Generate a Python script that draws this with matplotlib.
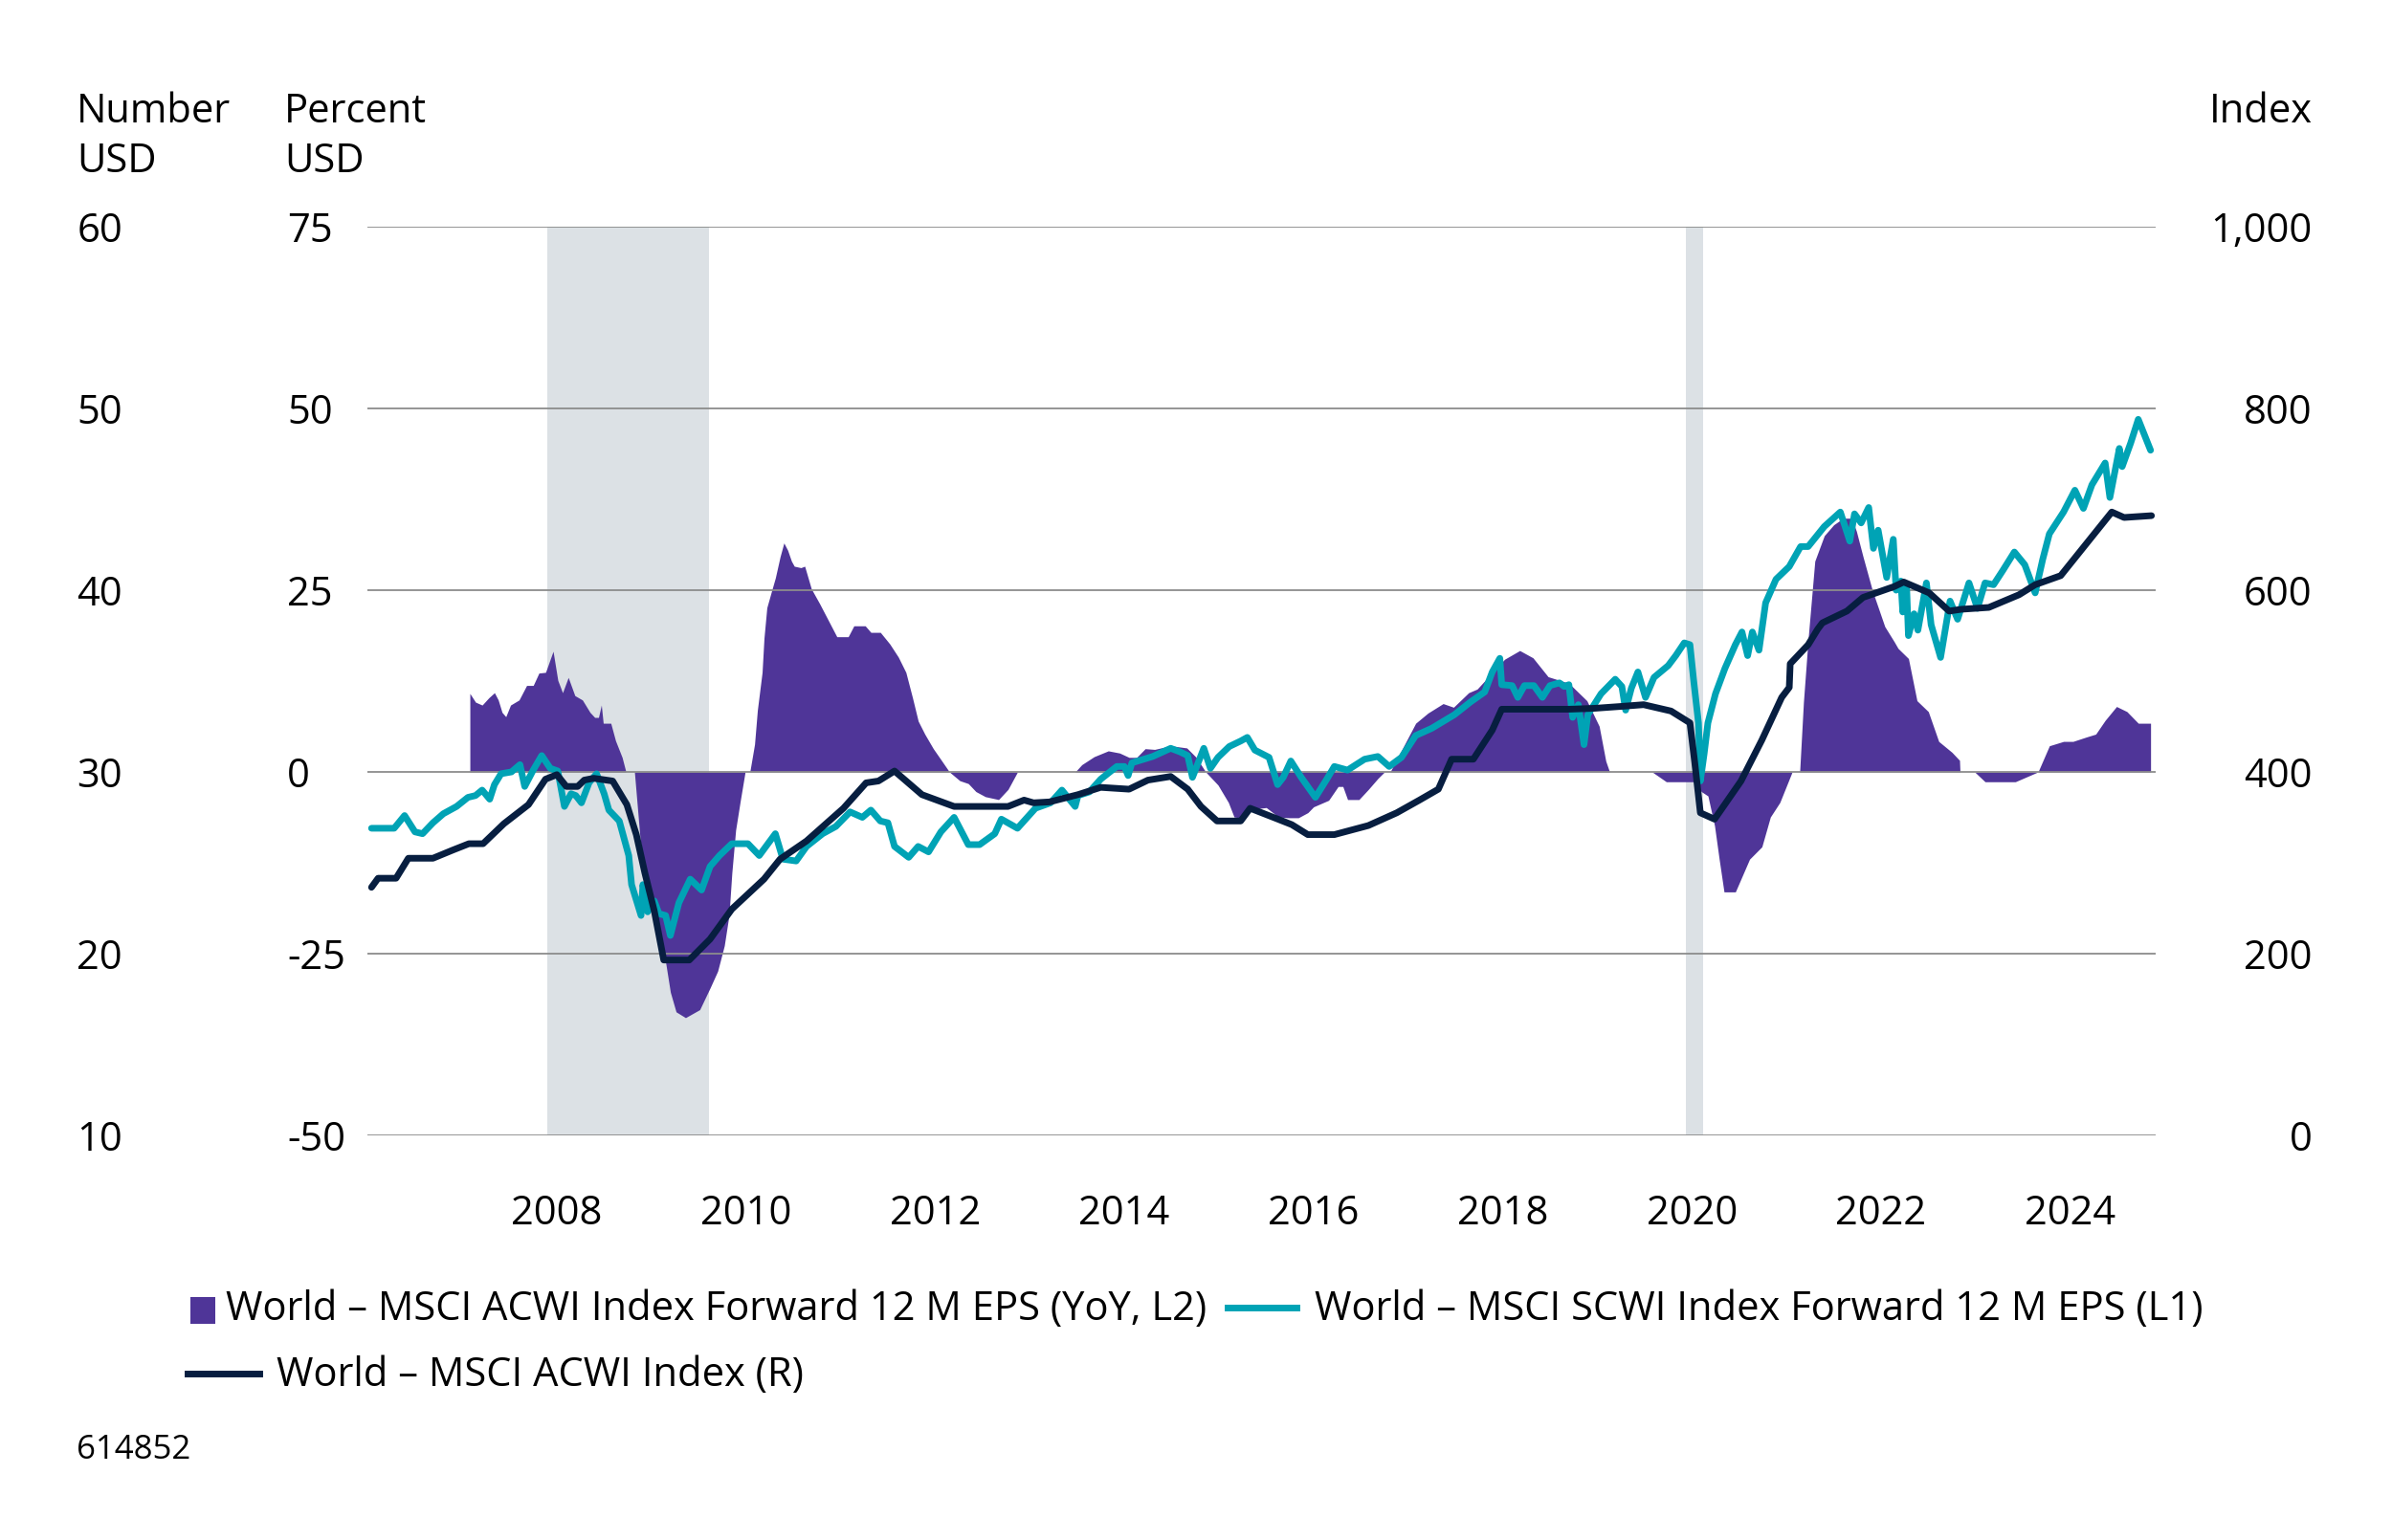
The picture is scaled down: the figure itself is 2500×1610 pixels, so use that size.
import matplotlib
matplotlib.use('Agg')
import matplotlib.pyplot as plt
from matplotlib.lines import Line2D
from matplotlib.patches import Rectangle

plt.rcParams['font.family'] = ['Open Sans', 'DejaVu Sans']
plt.rcParams['axes.unicode_minus'] = False

# Forward 12M EPS, USD (left outer axis, L1)
eps_year = [2006.04, 2006.28, 2006.39, 2006.50, 2006.58, 2006.69, 2006.80, 2006.94, 2007.06, 2007.14,
            2007.21, 2007.29, 2007.34, 2007.41, 2007.52, 2007.61, 2007.66, 2007.75, 2007.84, 2007.93,
            2008.01, 2008.08, 2008.15, 2008.20, 2008.26, 2008.34, 2008.42, 2008.50, 2008.55, 2008.66,
            2008.76, 2008.79, 2008.86, 2008.89, 2008.91, 2008.96, 2009.03, 2009.08, 2009.15, 2009.20,
            2009.29, 2009.41, 2009.53, 2009.62, 2009.72, 2009.85, 2010.02, 2010.14, 2010.31, 2010.39,
            2010.53, 2010.64, 2010.81, 2010.95, 2011.10, 2011.23, 2011.32, 2011.42, 2011.50, 2011.57,
            2011.72, 2011.82, 2011.93, 2012.06, 2012.20, 2012.35, 2012.47, 2012.63, 2012.70, 2012.87,
            2013.06, 2013.22, 2013.34, 2013.48, 2013.51, 2013.63, 2013.75, 2013.92, 2014.00, 2014.04,
            2014.08, 2014.30, 2014.49, 2014.59, 2014.67, 2014.72, 2014.84, 2014.91, 2014.99, 2015.11,
            2015.23, 2015.30, 2015.38, 2015.53, 2015.62, 2015.68, 2015.76, 2015.87, 2016.02, 2016.14,
            2016.22, 2016.36, 2016.54, 2016.68, 2016.80, 2016.93, 2017.08, 2017.25, 2017.49, 2017.66,
            2017.81, 2017.89, 2017.97, 2017.99, 2018.10, 2018.16, 2018.23, 2018.33, 2018.42, 2018.50,
            2018.60, 2018.65, 2018.70, 2018.74, 2018.80, 2018.86, 2018.90, 2019.04, 2019.19, 2019.26,
            2019.30, 2019.36, 2019.43, 2019.51, 2019.60, 2019.75, 2019.83, 2019.92, 2019.98, 2020.02,
            2020.07, 2020.09, 2020.13, 2020.17, 2020.25, 2020.35, 2020.46, 2020.53, 2020.59, 2020.64,
            2020.71, 2020.78, 2020.89, 2021.03, 2021.15, 2021.23, 2021.40, 2021.57, 2021.67, 2021.72,
            2021.79, 2021.87, 2021.92, 2021.97, 2022.06, 2022.13, 2022.16, 2022.21, 2022.23, 2022.27,
            2022.29, 2022.35, 2022.39, 2022.48, 2022.53, 2022.63, 2022.73, 2022.81, 2022.93, 2023.02,
            2023.10, 2023.19, 2023.29, 2023.41, 2023.52, 2023.63, 2023.71, 2023.78, 2023.93, 2024.05,
            2024.14, 2024.23, 2024.37, 2024.42, 2024.52, 2024.55, 2024.64, 2024.72, 2024.85]
eps_usd = [26.9, 26.9, 27.6, 26.7, 26.6, 27.2, 27.7, 28.1, 28.6, 28.7,
           29.0, 28.5, 29.3, 29.9, 30.0, 30.4, 29.2, 30.1, 30.9, 30.2,
           30.05, 28.1, 28.8, 28.7, 28.3, 29.4, 29.9, 28.8, 27.9, 27.3,
           25.4, 23.8, 22.6, 22.1, 23.8, 22.3, 22.9, 22.2, 22.1, 21.0,
           22.8, 24.1, 23.5, 24.8, 25.4, 26.05, 26.05, 25.4, 26.6, 25.2,
           25.1, 25.9, 26.6, 27.0, 27.8, 27.5, 27.9, 27.3, 27.2, 25.9,
           25.3, 25.9, 25.6, 26.7, 27.5, 26.0, 26.0, 26.6, 27.4, 26.9,
           28.0, 28.3, 29.0, 28.1, 28.7, 28.9, 29.6, 30.3, 30.3, 29.8,
           30.5, 30.85, 31.3, 31.1, 30.9, 29.7, 31.3, 30.2, 30.8, 31.4,
           31.7, 31.9, 31.2, 30.8, 29.3, 29.7, 30.6, 29.7, 28.6, 29.6,
           30.3, 30.1, 30.7, 30.85, 30.3, 30.8, 32.0, 32.4, 33.15, 33.85,
           34.4, 35.5, 36.25, 34.8, 34.75, 34.1, 34.75, 34.75, 34.1, 34.75,
           34.9, 34.7, 34.8, 33.0, 33.7, 31.5, 33.15, 34.3, 35.1, 34.7,
           33.4, 34.6, 35.5, 34.1, 35.2, 35.85, 36.4, 37.1, 37.0, 35.0,
           32.7, 29.5, 31.0, 32.7, 34.3, 35.7, 37.0, 37.7, 36.4, 37.7,
           36.7, 39.3, 40.6, 41.3, 42.4, 42.4, 43.5, 44.3, 42.7, 44.2,
           43.7, 44.55, 42.3, 43.3, 40.7, 42.8, 40.0, 40.5, 38.8, 40.3,
           37.5, 38.7, 37.8, 40.4, 38.1, 36.3, 39.4, 38.4, 40.4, 39.0,
           40.4, 40.3, 41.1, 42.1, 41.4, 39.85, 41.7, 43.1, 44.3, 45.5,
           44.5, 45.8, 47.0, 45.1, 47.8, 46.8, 48.1, 49.4, 47.7]

# MSCI ACWI index level (right axis, R)
idx_year = [2006.04, 2006.11, 2006.30, 2006.43, 2006.69, 2006.90, 2007.07, 2007.22, 2007.44, 2007.70,
            2007.88, 2008.00, 2008.10, 2008.22, 2008.29, 2008.39, 2008.59, 2008.74, 2008.84, 2008.93,
            2009.03, 2009.13, 2009.40, 2009.62, 2009.85, 2010.19, 2010.36, 2010.64, 2011.03, 2011.27,
            2011.40, 2011.57, 2011.86, 2012.20, 2012.77, 2012.94, 2013.04, 2013.21, 2013.51, 2013.75,
            2014.05, 2014.25, 2014.49, 2014.67, 2014.81, 2014.98, 2015.23, 2015.33, 2015.60, 2015.77,
            2015.94, 2016.22, 2016.58, 2016.88, 2017.12, 2017.32, 2017.46, 2017.69, 2017.89, 2017.99,
            2018.70, 2018.97, 2019.24, 2019.49, 2019.78, 2019.98, 2020.03, 2020.09, 2020.24, 2020.52,
            2020.74, 2020.95, 2021.03, 2021.04, 2021.23, 2021.33, 2021.38, 2021.64, 2021.81, 2022.14,
            2022.24, 2022.51, 2022.72, 2022.85, 2023.14, 2023.46, 2023.63, 2023.90, 2024.44, 2024.57,
            2024.86]
idx_level = [273, 283, 283, 305, 305, 314, 321, 321, 343, 364,
             392, 397, 384, 384, 391, 393, 390, 364, 331, 289,
             247, 193, 193, 216, 249, 282, 304, 324, 360, 388,
             390, 401, 375, 362, 362, 369, 366, 367, 375, 383,
             381, 391, 395, 381, 362, 346, 346, 360, 349, 342,
             331, 331, 341, 355, 369, 381, 414, 414, 446, 469,
             469, 470, 472, 474, 467, 454, 411, 355, 348, 390,
             435, 482, 493, 519, 540, 557, 564, 577, 592, 604,
             609, 597, 577, 579, 581, 595, 606, 616, 686, 680,
             682]

# Forward 12M EPS, YoY % (left inner axis, L2)
yoy_year = [2007.08, 2007.14, 2007.21, 2007.28, 2007.34, 2007.38, 2007.42, 2007.46, 2007.51, 2007.60,
            2007.68, 2007.75, 2007.81, 2007.88, 2007.96, 2008.01, 2008.06, 2008.12, 2008.19, 2008.27,
            2008.35, 2008.40, 2008.44, 2008.47, 2008.49, 2008.57, 2008.62, 2008.69, 2008.73, 2008.82,
            2008.88, 2008.93, 2009.03, 2009.15, 2009.20, 2009.26, 2009.36, 2009.51, 2009.62, 2009.70,
            2009.77, 2009.82, 2009.85, 2009.89, 2009.94, 2009.99, 2010.04, 2010.09, 2010.12, 2010.17,
            2010.19, 2010.22, 2010.27, 2010.31, 2010.36, 2010.40, 2010.44, 2010.48, 2010.51, 2010.58,
            2010.62, 2010.69, 2010.78, 2010.86, 2010.96, 2011.08, 2011.14, 2011.26, 2011.32, 2011.42,
            2011.52, 2011.61, 2011.69, 2011.76, 2011.82, 2011.89, 2011.98, 2012.06, 2012.15, 2012.26,
            2012.35, 2012.43, 2012.53, 2012.67, 2012.77, 2012.87, 2013.48, 2013.55, 2013.68, 2013.83,
            2013.95, 2014.05, 2014.13, 2014.22, 2014.32, 2014.49, 2014.66, 2014.76, 2014.86, 2014.99,
            2015.10, 2015.16, 2015.23, 2015.37, 2015.50, 2015.63, 2015.74, 2015.84, 2015.94, 2016.00,
            2016.16, 2016.26, 2016.31, 2016.36, 2016.48, 2016.58, 2016.68, 2016.75, 2016.81, 2017.08,
            2017.21, 2017.37, 2017.48, 2017.64, 2017.73, 2018.02, 2018.18, 2018.32, 2018.48, 2018.70,
            2018.89, 2019.02, 2019.09, 2019.13, 2019.58, 2019.73, 2020.02, 2020.10, 2020.17, 2020.24,
            2020.29, 2020.34, 2020.46, 2020.61, 2020.74, 2020.83, 2020.93, 2021.06, 2021.14, 2021.18,
            2021.23, 2021.30, 2021.40, 2021.50, 2021.60, 2021.69, 2021.74, 2021.81, 2021.91, 2022.04,
            2022.14, 2022.18, 2022.29, 2022.38, 2022.50, 2022.61, 2022.75, 2022.83, 2022.835, 2022.99,
            2023.10, 2023.42, 2023.66, 2023.78, 2023.93, 2024.03, 2024.17, 2024.27, 2024.37, 2024.49,
            2024.60, 2024.72, 2024.85]
yoy_pct = [10.8, 9.6, 9.2, 10.2, 10.9, 9.9, 8.2, 7.6, 9.2, 9.9,
           11.9, 11.9, 13.6, 13.7, 16.6, 12.6, 10.9, 13.0, 10.5, 9.9,
           8.2, 7.5, 7.5, 9.2, 6.7, 6.7, 4.3, 2.0, 0, 0,
           -9.2, -13.9, -19.7, -26.2, -30.3, -33.0, -33.8, -32.7, -29.7, -27.4,
           -23.9, -19.7, -13.9, -8.0, -3.9, 0, 0, 3.8, 8.5, 13.7,
           18.4, 22.6, 24.9, 26.7, 29.6, 31.5, 30.5, 29.0, 28.3, 28.1,
           28.3, 25.2, 23.1, 21.1, 18.6, 18.6, 20.1, 20.1, 19.2, 19.2,
           17.6, 15.8, 13.7, 10.2, 7.0, 5.2, 3.2, 1.7, 0, -1.2,
           -1.6, -2.7, -3.4, -3.8, -2.4, 0, 0, 1.0, 2.1, 2.9,
           2.6, 2.0, 2.0, 3.2, 3.1, 3.6, 3.3, 2.0, 0, -1.8,
           -4.2, -6.2, -6.3, -5.1, -4.9, -6.2, -6.3, -6.3, -5.6, -4.8,
           -3.9, -2.0, -2.0, -3.8, -3.8, -2.4, -0.9, 0, 0, 6.7,
           8.1, 9.4, 8.9, 10.9, 11.4, 15.5, 16.7, 15.7, 13.1, 12.2,
           9.8, 6.3, 1.5, 0, 0, -1.35, -1.35, -2.7, -3.3, -7.4,
           -12.1, -16.5, -16.5, -12.0, -10.3, -6.2, -4.2, 0, 0, 9.6,
           18.4, 29.0, 32.5, 34.0, 34.9, 34.9, 33.1, 29.6, 24.9, 20.0,
           17.9, 17.0, 15.6, 9.8, 8.3, 4.2, 2.7, 1.6, 0, 0,
           -1.35, -1.35, 0, 3.6, 4.2, 4.2, 4.8, 5.2, 7.1, 9.0,
           8.3, 6.7, 6.7]

# Recession periods (shaded)
recessions = [(2007.90, 2009.61), (2019.94, 2020.12)]

# Axis ticks
year_ticks = list(range(2008, 2025, 2))
pct_ticks = [-50, -25, 0, 25, 50, 75]
num_ticks = [10, 20, 30, 40, 50, 60]
idx_ticks = [0, 200, 400, 600, 800, 1000]
idx_labels = ['0', '200', '400', '600', '800', '1,000']

labels = ['World – MSCI ACWI Index Forward 12 M EPS (YoY, L2)',
          'World – MSCI SCWI Index Forward 12 M EPS (L1)',
          'World – MSCI ACWI Index (R)']

purple = '#4F3598'
teal = '#00A3B5'
navy = '#071E40'
shade = '#DCE1E5'
grid = '#8C8C8C'
fs = 30

W, H = 2500, 1610
fig = plt.figure(figsize=(W / 100, H / 100), dpi=100)
ax = fig.add_axes([0.15372, 0.26273, 0.74732, 0.59006])
ax_num = ax.twinx()
ax_idx = ax.twinx()

# shading and YoY area on the percent axis
for start, end in recessions:
    ax.axvspan(start, end, color=shade, linewidth=0, zorder=0)
ax.fill_between(yoy_year, yoy_pct, 0, color=purple, linewidth=0, zorder=1)
ax.set_ylim(-50, 75)
ax.set_yticks(pct_ticks)
ax.set_xlim(2006.0, 2024.9)
ax.set_xticks(year_ticks)
ax.set_xticklabels([str(y) for y in year_ticks])
ax.grid(axis='y', color=grid, linewidth=1.3)
ax.set_axisbelow(False)

# index and EPS lines
ax_idx.plot(idx_year, idx_level, color=navy, linewidth=5.0, solid_capstyle='round')
ax_idx.set_ylim(0, 1000)
ax_idx.set_yticks(idx_ticks)
ax_idx.set_yticklabels(idx_labels)

ax_num.plot(eps_year, eps_usd, color=teal, linewidth=5.0, solid_capstyle='round')
ax_num.set_ylim(10, 60)
ax_num.set_yticks(num_ticks)
ax_num.yaxis.set_ticks_position('left')

for a in (ax, ax_num, ax_idx):
    for s in a.spines.values():
        s.set_visible(False)
    a.tick_params(length=0, labelsize=fs)

ax.tick_params(axis='x', pad=44)
ax.tick_params(axis='y', pad=60.5)
ax_num.tick_params(axis='y', pad=219)
ax_idx.tick_params(axis='y', pad=118)
plt.setp(ax.get_yticklabels(), ha='left')
plt.setp(ax_num.get_yticklabels(), ha='left')
plt.setp(ax_idx.get_yticklabels(), ha='right')

# axis unit titles
def fx(px):
    return px / W

def fy(py):
    return 1 - py / H

fig.text(fx(80), fy(143), 'Number\nUSD', fontsize=fs, ha='left', va='center', linespacing=1.33)
fig.text(fx(297), fy(143), 'Percent\nUSD', fontsize=fs, ha='left', va='center', linespacing=1.33)
fig.text(fx(2417), fy(117), 'Index', fontsize=fs, ha='right', va='center')

# legend
fig.add_artist(Rectangle((fx(199), fy(1384)), fx(26), 28 / H, color=purple, linewidth=0))
fig.text(fx(236), fy(1369), labels[0], fontsize=fs, ha='left', va='center')
fig.add_artist(Line2D([fx(1283), fx(1355)], [fy(1367), fy(1367)], color=teal, linewidth=5.0))
fig.text(fx(1374), fy(1369), labels[1], fontsize=fs, ha='left', va='center')
fig.add_artist(Line2D([fx(196), fx(271)], [fy(1436), fy(1436)], color=navy, linewidth=5.0))
fig.text(fx(289), fy(1438), labels[2], fontsize=fs, ha='left', va='center')

fig.text(fx(80), fy(1516), '614852', fontsize=25, ha='left', va='center')

plt.savefig('out.png', dpi=100)
